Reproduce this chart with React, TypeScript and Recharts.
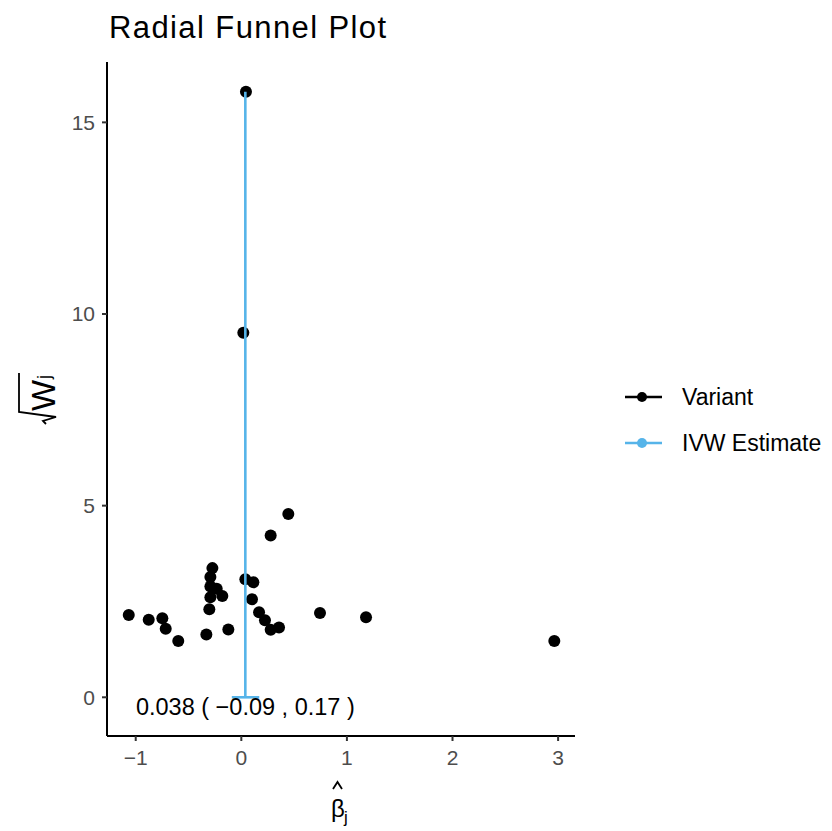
import React from "react";
import {
  ScatterChart,
  Scatter,
  XAxis,
  YAxis,
  ReferenceDot,
  Label,
} from "recharts";

// variant estimates (beta_j) and sqrt(W_j)
const variantBeta = [
  0.445, 0.278, -0.274, -0.293, 0.038, 0.114, -0.293, -0.233, -0.18, -0.293,
  0.101, -0.303, -1.066, 0.745, -0.877, -0.748, 0.168, 0.224, -0.716, 0.357,
  0.278, -0.597, -0.331, -0.123, 1.181, 2.964, 0.044, 0.019,
];
const variantSqrtW = [
  4.78, 4.22, 3.37, 3.14, 3.08, 3.0, 2.89, 2.83, 2.64, 2.61, 2.56, 2.3, 2.15,
  2.2, 2.02, 2.06, 2.22, 2.01, 1.79, 1.82, 1.76, 1.47, 1.64, 1.77, 2.09, 1.47,
  15.8, 9.51,
];

const ivwEstimate = 0.038;
const ivwLower = -0.09;
const ivwUpper = 0.17;
const ivwTop = 15.8;

const xTicks = [-1, 0, 1, 2, 3];
const yTicks = [0, 5, 10, 15];

const legendLabels = ["Variant", "IVW Estimate"];
const legendColors = ["#000000", "#56B4E9"];

const variantData = variantBeta.map((b, i) => ({ x: b, y: variantSqrtW[i] }));
const ivwLine = [
  { x: ivwEstimate, y: 0 },
  { x: ivwEstimate, y: ivwTop },
];
const ivwCI = [
  { x: ivwLower, y: 0 },
  { x: ivwUpper, y: 0 },
];

const font = '"Liberation Sans", Arial, Helvetica, sans-serif';
const fmt = (v: number) => (v < 0 ? `\u2212${Math.abs(v)}` : `${v}`);
const annotation = `${ivwEstimate} ( ${fmt(ivwLower)} , ${ivwUpper} )`;

const Dot = (props: any) => (
  <circle cx={props.cx} cy={props.cy} r={6} fill="#000" />
);
const NoDot = () => <g />;

const XTitle = (props: any) => {
  const vb = props.viewBox;
  const cx = vb.x + vb.width / 2;
  return (
    <g fontFamily={font} fill="#000">
      <path
        d={`M${cx - 8},789 L${cx - 3.5},782 L${cx + 1},789`}
        stroke="#000"
        strokeWidth={1.8}
        fill="none"
      />
      <text x={cx - 10} y={817} fontSize={24}>
        β
      </text>
      <text x={cx + 3} y={823} fontSize={17}>
        j
      </text>
    </g>
  );
};

const YTitle = (props: any) => {
  const vb = props.viewBox;
  const cy = vb.y + vb.height / 2 - 1;
  const cx = 40;
  return (
    <g transform={`translate(${cx},${cy}) rotate(-90)`} fontFamily={font}>
      <path
        d="M-26,6 L-23,3 L-19,16 L-14,-21 L25,-21"
        stroke="#000"
        strokeWidth={1.8}
        fill="none"
      />
      <text x={-13} y={15} fontSize={33} fill="#000">
        W
      </text>
      <text x={19} y={10} fontSize={18} fill="#000">
        j
      </text>
    </g>
  );
};

export default function App() {
  return (
    <div
      style={{
        position: "absolute",
        left: 0,
        top: 0,
        width: 832,
        height: 831,
        background: "#fff",
        fontFamily: font,
      }}
    >
      <ScatterChart
        width={832}
        height={831}
        margin={{ top: 62, right: 257, bottom: 0, left: 0 }}
      >
        <XAxis
          type="number"
          dataKey="x"
          domain={[-1.272, 3.16]}
          ticks={xTicks}
          allowDataOverflow
          height={95}
          tickFormatter={fmt}
          tick={{ fill: "#4D4D4D", fontSize: 21, fontFamily: font }}
          tickSize={5}
          tickMargin={9}
          tickLine={{ stroke: "#333", strokeWidth: 2 }}
          axisLine={{ stroke: "#000", strokeWidth: 2 }}
          label={<Label content={XTitle} />}
        />
        <YAxis
          type="number"
          dataKey="y"
          domain={[-1.01, 16.575]}
          ticks={yTicks}
          allowDataOverflow
          width={107}
          tick={{ fill: "#4D4D4D", fontSize: 21, fontFamily: font }}
          tickSize={5}
          tickMargin={7}
          tickLine={{ stroke: "#333", strokeWidth: 2 }}
          axisLine={{ stroke: "#000", strokeWidth: 2 }}
          label={<Label content={YTitle} />}
        />
        <Scatter
          name="Variant"
          data={variantData}
          shape={Dot}
          isAnimationActive={false}
        />
        <Scatter
          name="IVW Estimate"
          data={ivwLine}
          line={{ stroke: "#56B4E9", strokeWidth: 2.6 }}
          shape={NoDot}
          isAnimationActive={false}
        />
        <Scatter
          name="IVW CI"
          data={ivwCI}
          line={{ stroke: "#56B4E9", strokeWidth: 2.6 }}
          shape={NoDot}
          isAnimationActive={false}
        />
        <ReferenceDot
          x={ivwEstimate}
          y={-0.245}
          r={0}
          fill="none"
          stroke="none"
          label={{
            value: annotation,
            position: "center",
            fill: "#000",
            fontSize: 23.5,
            fontFamily: font,
          }}
        />
      </ScatterChart>
      <svg
        width={832}
        height={831}
        style={{ position: "absolute", left: 0, top: 0, pointerEvents: "none" }}
      >
        <text
          x={109}
          y={38}
          fontSize={31}
          letterSpacing={1.4}
          fontFamily={font}
          fill="#000"
        >
          Radial Funnel Plot
        </text>
        {legendLabels.map((name, i) => {
          const y = 397 + i * 46;
          return (
            <g key={name}>
              <line
                x1={625}
                x2={662}
                y1={y}
                y2={y}
                stroke={legendColors[i]}
                strokeWidth={2.6}
              />
              <circle cx={642} cy={y} r={5} fill={legendColors[i]} />
              <text
                x={682}
                y={y + 8}
                fontSize={23}
                fontFamily={font}
                fill="#000"
              >
                {name}
              </text>
            </g>
          );
        })}
      </svg>
    </div>
  );
}
